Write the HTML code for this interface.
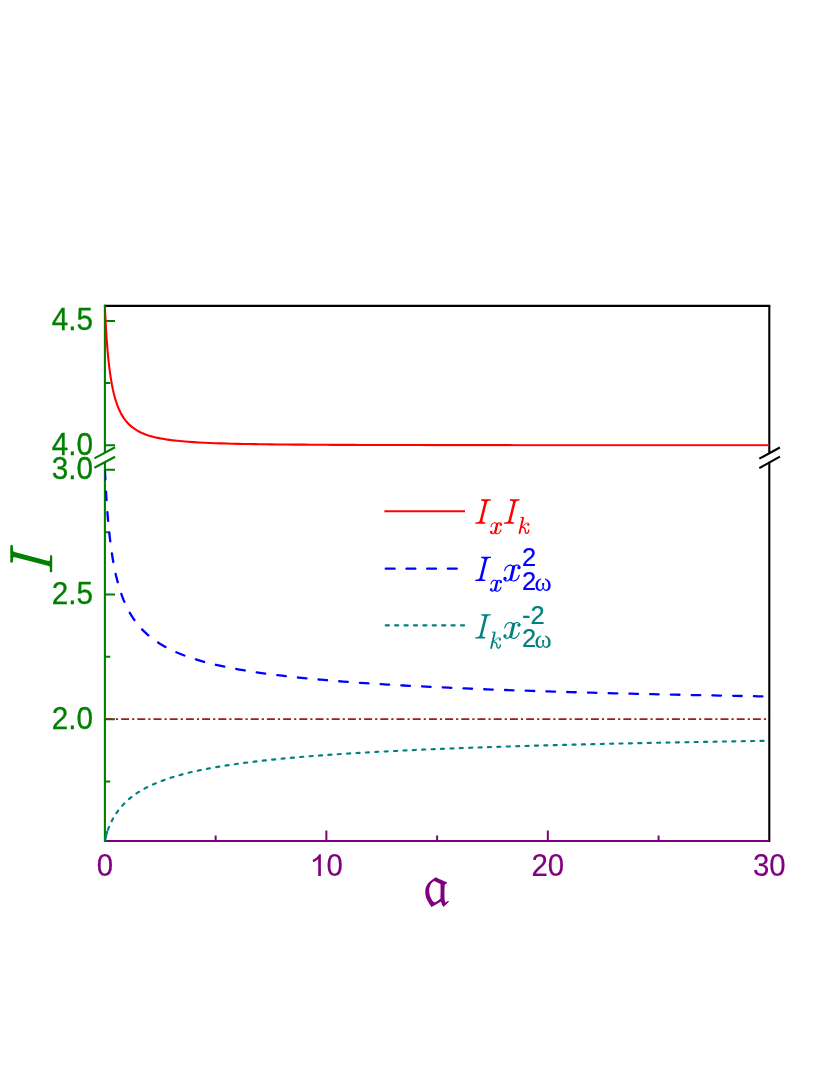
<!DOCTYPE html>
<html><head><meta charset="utf-8"><title>chart</title>
<style>
html,body{margin:0;padding:0;background:#fff;}
svg{display:block;will-change:transform;transform:translateZ(0);}
text{font-family:"Liberation Sans",sans-serif;}
.ser{font-family:"Liberation Serif",serif;}
</style></head><body>
<svg width="830" height="1075" viewBox="0 0 830 1075">
<rect width="830" height="1075" fill="#fff"/>
<defs><clipPath id="cb"><rect x="104.80" y="468.9" width="665.55" height="373.15"/></clipPath>
<clipPath id="ct"><rect x="104.80" y="304.85" width="665.55" height="141.55"/></clipPath></defs>

<path d="M103.90,305.9 H770.35" stroke="#000" stroke-width="2.1" fill="none"/>
<path d="M769.30,305.9 V452.7 M769.30,461.8 V842.05" stroke="#000" stroke-width="2.1" fill="none"/>
<path d="M759.3,458.7 L779.9,447.5 M759.3,468.1 L779.9,456.7" stroke="#000" stroke-width="2.1" fill="none"/>
<path d="M104.90,841.0 H769.30" stroke="#800080" stroke-width="2.1" fill="none"/>
<path d="M326.37,841.0 v-10.4 M547.83,841.0 v-10.4 M215.63,841.0 v-5.4 M437.10,841.0 v-5.4 M658.57,841.0 v-5.4" stroke="#800080" stroke-width="2" fill="none"/>
<path d="M104.90,304.84999999999997 V452.9 M104.90,462 V842.05" stroke="#008000" stroke-width="2.1" fill="none"/>
<path d="M94.4,458.4 L115.1,447.3 M94.4,467.8 L115.1,456.7" stroke="#008000" stroke-width="2.1" fill="none"/>
<path d="M104.90,320.95 h10.1 M104.90,445.30 h10.1 M104.90,469.83 h10.1 M104.90,594.48 h10.1 M104.90,719.13 h10.1 M104.90,383.12 h5.4 M104.90,532.15 h5.4 M104.90,656.80 h5.4 M104.90,781.46 h5.4" stroke="#008000" stroke-width="2" fill="none"/>
<path d="M104.90,719.1 H769.30" stroke="#952020" stroke-width="1.6" stroke-dasharray="8 3 2.2 3" fill="none"/>
<path clip-path="url(#ct)" d="M104.90,307.43 L104.93,308.06 L105.01,309.91 L105.15,312.88 L105.34,316.85 L105.59,321.65 L105.90,327.08 L106.26,332.96 L106.67,339.11 L107.14,345.39 L107.67,351.67 L108.25,357.83 L108.89,363.81 L109.58,369.55 L110.33,375.01 L111.13,380.16 L111.99,385.00 L112.90,389.52 L113.87,393.74 L114.89,397.65 L115.97,401.27 L117.11,404.62 L118.30,407.72 L119.54,410.57 L120.85,413.20 L122.20,415.62 L123.61,417.86 L125.08,419.91 L126.60,421.80 L128.18,423.54 L129.81,425.14 L131.50,426.62 L133.25,427.98 L135.05,429.23 L136.90,430.39 L138.81,431.45 L140.78,432.44 L142.80,433.34 L144.87,434.18 L147.01,434.95 L149.19,435.67 L154.73,437.18 L160.27,438.38 L165.80,439.34 L171.34,440.12 L176.88,440.76 L182.41,441.30 L187.95,441.75 L193.49,442.14 L199.02,442.46 L204.56,442.75 L210.10,442.99 L215.63,443.20 L221.17,443.39 L226.71,443.56 L232.24,443.70 L237.78,443.83 L243.32,443.95 L248.85,444.05 L254.39,444.14 L259.93,444.23 L265.46,444.30 L271.00,444.37 L276.54,444.43 L282.07,444.49 L287.61,444.54 L293.15,444.59 L298.68,444.63 L304.22,444.67 L309.76,444.71 L315.29,444.74 L320.83,444.77 L326.37,444.80 L331.90,444.83 L337.44,444.85 L342.98,444.87 L348.51,444.89 L354.05,444.91 L359.59,444.93 L365.12,444.95 L370.66,444.97 L376.20,444.98 L381.73,445.00 L387.27,445.01 L392.81,445.02 L398.34,445.03 L403.88,445.04 L409.42,445.06 L414.95,445.07 L420.49,445.07 L426.03,445.08 L431.56,445.09 L437.10,445.10 L442.64,445.11 L448.17,445.11 L453.71,445.12 L459.25,445.13 L464.78,445.13 L470.32,445.14 L475.86,445.14 L481.39,445.15 L486.93,445.15 L492.47,445.16 L498.00,445.16 L503.54,445.17 L509.08,445.17 L514.61,445.18 L520.15,445.18 L525.69,445.18 L531.22,445.19 L536.76,445.19 L542.30,445.19 L547.83,445.20 L553.37,445.20 L558.91,445.20 L564.44,445.21 L569.98,445.21 L575.52,445.21 L581.05,445.21 L586.59,445.22 L592.13,445.22 L597.66,445.22 L603.20,445.22 L608.74,445.22 L614.27,445.23 L619.81,445.23 L625.35,445.23 L630.88,445.23 L636.42,445.23 L641.96,445.23 L647.49,445.24 L653.03,445.24 L658.57,445.24 L664.10,445.24 L669.64,445.24 L675.18,445.24 L680.71,445.24 L686.25,445.24 L691.79,445.25 L697.32,445.25 L702.86,445.25 L708.40,445.25 L713.93,445.25 L719.47,445.25 L725.01,445.25 L730.54,445.25 L736.08,445.25 L741.62,445.26 L747.15,445.26 L752.69,445.26 L758.23,445.26 L763.76,445.26 L769.30,445.26" stroke="#ff0000" stroke-width="2.1" fill="none" stroke-linejoin="round"/>
<path clip-path="url(#cb)" d="M104.90,469.83 L104.93,470.45 L105.01,472.29 L105.15,475.26 L105.34,479.24 L105.59,484.09 L105.90,489.63 L106.26,495.70 L106.67,502.14 L107.14,508.81 L107.67,515.58 L108.25,522.35 L108.89,529.04 L109.58,535.59 L110.33,541.96 L111.13,548.11 L111.99,554.03 L112.90,559.70 L113.87,565.11 L114.89,570.28 L115.97,575.20 L117.11,579.88 L118.30,584.32 L119.54,588.55 L120.85,592.57 L122.20,596.38 L123.61,600.01 L125.08,603.46 L126.60,606.74 L128.18,609.86 L129.81,612.83 L131.50,615.66 L133.25,618.36 L135.05,620.93 L136.90,623.39 L138.81,625.73 L140.78,627.98 L142.80,630.12 L144.87,632.18 L147.01,634.14 L149.19,636.03 L154.73,640.29 L160.27,643.96 L165.80,647.16 L171.34,649.99 L176.88,652.50 L182.41,654.76 L187.95,656.80 L193.49,658.67 L199.02,660.37 L204.56,661.94 L210.10,663.38 L215.63,664.73 L221.17,665.98 L226.71,667.15 L232.24,668.24 L237.78,669.27 L243.32,670.24 L248.85,671.15 L254.39,672.02 L259.93,672.84 L265.46,673.61 L271.00,674.35 L276.54,675.06 L282.07,675.73 L287.61,676.38 L293.15,676.99 L298.68,677.58 L304.22,678.15 L309.76,678.69 L315.29,679.21 L320.83,679.71 L326.37,680.20 L331.90,680.66 L337.44,681.11 L342.98,681.55 L348.51,681.97 L354.05,682.37 L359.59,682.77 L365.12,683.15 L370.66,683.52 L376.20,683.87 L381.73,684.22 L387.27,684.56 L392.81,684.89 L398.34,685.20 L403.88,685.51 L409.42,685.82 L414.95,686.11 L420.49,686.40 L426.03,686.67 L431.56,686.95 L437.10,687.21 L442.64,687.47 L448.17,687.72 L453.71,687.97 L459.25,688.21 L464.78,688.44 L470.32,688.67 L475.86,688.90 L481.39,689.12 L486.93,689.33 L492.47,689.54 L498.00,689.75 L503.54,689.95 L509.08,690.15 L514.61,690.34 L520.15,690.53 L525.69,690.72 L531.22,690.90 L536.76,691.08 L542.30,691.26 L547.83,691.43 L553.37,691.60 L558.91,691.77 L564.44,691.93 L569.98,692.09 L575.52,692.25 L581.05,692.40 L586.59,692.55 L592.13,692.70 L597.66,692.85 L603.20,693.00 L608.74,693.14 L614.27,693.28 L619.81,693.42 L625.35,693.55 L630.88,693.69 L636.42,693.82 L641.96,693.95 L647.49,694.07 L653.03,694.20 L658.57,694.32 L664.10,694.45 L669.64,694.57 L675.18,694.68 L680.71,694.80 L686.25,694.92 L691.79,695.03 L697.32,695.14 L702.86,695.25 L708.40,695.36 L713.93,695.47 L719.47,695.57 L725.01,695.68 L730.54,695.78 L736.08,695.88 L741.62,695.98 L747.15,696.08 L752.69,696.18 L758.23,696.28 L763.76,696.37 L769.30,696.47" stroke="#0000ff" stroke-width="2.3" stroke-dasharray="8.6 12.15" stroke-dashoffset="-1" stroke-linecap="round" fill="none" stroke-linejoin="round"/>
<path clip-path="url(#cb)" d="M104.90,840.96 L104.93,840.80 L105.01,840.34 L105.15,839.61 L105.34,838.66 L105.59,837.53 L105.90,836.26 L106.26,834.90 L106.67,833.47 L107.14,831.97 L107.67,830.42 L108.25,828.83 L108.89,827.20 L109.58,825.54 L110.33,823.86 L111.13,822.16 L111.99,820.46 L112.90,818.75 L113.87,817.05 L114.89,815.37 L115.97,813.70 L117.11,812.05 L118.30,810.42 L119.54,808.81 L120.85,807.24 L122.20,805.69 L123.61,804.18 L125.08,802.69 L126.60,801.24 L128.18,799.81 L129.81,798.42 L131.50,797.07 L133.25,795.74 L135.05,794.44 L136.90,793.18 L138.81,791.95 L140.78,790.74 L142.80,789.57 L144.87,788.42 L147.01,787.31 L149.19,786.22 L154.73,783.69 L160.27,781.44 L165.80,779.41 L171.34,777.57 L176.88,775.90 L182.41,774.36 L187.95,772.95 L193.49,771.64 L199.02,770.42 L204.56,769.29 L210.10,768.23 L215.63,767.23 L221.17,766.30 L226.71,765.41 L232.24,764.58 L237.78,763.79 L243.32,763.04 L248.85,762.32 L254.39,761.65 L259.93,761.00 L265.46,760.38 L271.00,759.79 L276.54,759.22 L282.07,758.68 L287.61,758.16 L293.15,757.66 L298.68,757.17 L304.22,756.71 L309.76,756.26 L315.29,755.83 L320.83,755.41 L326.37,755.01 L331.90,754.62 L337.44,754.24 L342.98,753.88 L348.51,753.53 L354.05,753.18 L359.59,752.85 L365.12,752.53 L370.66,752.21 L376.20,751.91 L381.73,751.61 L387.27,751.32 L392.81,751.04 L398.34,750.77 L403.88,750.50 L409.42,750.24 L414.95,749.99 L420.49,749.74 L426.03,749.50 L431.56,749.26 L437.10,749.03 L442.64,748.81 L448.17,748.59 L453.71,748.37 L459.25,748.16 L464.78,747.96 L470.32,747.76 L475.86,747.56 L481.39,747.37 L486.93,747.18 L492.47,746.99 L498.00,746.81 L503.54,746.63 L509.08,746.46 L514.61,746.29 L520.15,746.12 L525.69,745.95 L531.22,745.79 L536.76,745.63 L542.30,745.48 L547.83,745.32 L553.37,745.17 L558.91,745.02 L564.44,744.88 L569.98,744.74 L575.52,744.59 L581.05,744.46 L586.59,744.32 L592.13,744.19 L597.66,744.05 L603.20,743.92 L608.74,743.80 L614.27,743.67 L619.81,743.55 L625.35,743.43 L630.88,743.31 L636.42,743.19 L641.96,743.07 L647.49,742.96 L653.03,742.84 L658.57,742.73 L664.10,742.62 L669.64,742.51 L675.18,742.41 L680.71,742.30 L686.25,742.20 L691.79,742.09 L697.32,741.99 L702.86,741.89 L708.40,741.79 L713.93,741.70 L719.47,741.60 L725.01,741.51 L730.54,741.41 L736.08,741.32 L741.62,741.23 L747.15,741.14 L752.69,741.05 L758.23,740.96 L763.76,740.87 L769.30,740.79" stroke="#008080" stroke-width="2.15" stroke-dasharray="3.1 6.3" stroke-dashoffset="-2.2" stroke-linecap="round" fill="none" stroke-linejoin="round"/>
<path clip-path="url(#cb)" d="M104.90,841.00 L104.90,840.96 L104.93,840.80 L105.01,840.34 L105.15,839.61 L105.34,838.66 L105.59,837.53 L105.90,836.26 L106.26,834.90 L106.67,833.47 L107.14,831.97 L106.26,831.50" stroke="#008080" stroke-width="2.15" fill="none" stroke-linejoin="round"/>
<text transform="translate(93.10,330.35) scale(1,1.075)" font-size="29.7" fill="#008000" stroke="#008000" stroke-width="0.3" text-anchor="end">4.5</text>
<text transform="translate(93.10,454.70) scale(1,1.075)" font-size="29.7" fill="#008000" stroke="#008000" stroke-width="0.3" text-anchor="end">4.0</text>
<text transform="translate(93.10,479.23) scale(1,1.075)" font-size="29.7" fill="#008000" stroke="#008000" stroke-width="0.3" text-anchor="end">3.0</text>
<text transform="translate(93.10,603.88) scale(1,1.075)" font-size="29.7" fill="#008000" stroke="#008000" stroke-width="0.3" text-anchor="end">2.5</text>
<text transform="translate(93.10,728.53) scale(1,1.075)" font-size="29.7" fill="#008000" stroke="#008000" stroke-width="0.3" text-anchor="end">2.0</text>
<text transform="translate(104.90,876.30) scale(1,1.085)" font-size="29.4" fill="#800080" stroke="#800080" stroke-width="0.2" text-anchor="middle">0</text>
<text transform="translate(547.83,876.30) scale(1,1.085)" font-size="29.4" fill="#800080" stroke="#800080" stroke-width="0.2" text-anchor="middle">20</text>
<text transform="translate(769.30,876.30) scale(1,1.085)" font-size="29.4" fill="#800080" stroke="#800080" stroke-width="0.2" text-anchor="middle">30</text>
<path transform="translate(309.62,876.0) scale(0.01475,-0.01475)" d="M763,0 H583 V1147 Q518,1085 412.5,1023 Q307,961 223,930 V1104 Q374,1175 487,1276 Q600,1377 647,1472 H763 Z" fill="#800080"/>
<text transform="translate(334.72,876.30) scale(1,1.085)" font-size="29.4" fill="#800080" stroke="#800080" stroke-width="0.2" text-anchor="middle">0</text>
<path d="M10.30,545.95 L10.83,545.02 L11.63,544.83 L12.49,545.16 L12.95,546.28 L12.95,549.93 L13.28,551.25 L14.61,552.12 L47.41,560.86 L49.27,561.06 L49.93,560.20 L50.06,556.22 L50.46,555.23 L51.19,554.96 L51.92,555.36 L52.25,556.42 L52.18,571.13 L51.79,572.13 L50.99,572.46 L50.20,572.06 L49.80,571.13 L49.80,567.49 L49.27,566.36 L47.74,565.70 L14.94,557.22 L13.48,557.35 L13.02,558.21 L12.95,561.53 L12.55,562.52 L11.63,562.85 L10.70,562.52 L10.30,561.53Z" fill="#008000"/>
<path d="M435.81,877.27 L438.55,878.66 L441.08,879.80 L444.88,881.49 L446.48,881.95 L446.99,882.37 L446.57,883.47 L445.39,884.23 L444.67,884.99 L444.50,888.87 L444.42,893.08 L444.50,898.14 L444.80,900.68 L445.30,902.45 L446.57,901.86 L447.83,901.10 L449.01,901.01 L448.34,902.15 L446.14,904.47 L443.40,906.92 L442.35,905.31 L441.51,903.21 L441.00,901.60 L436.87,904.05 L433.92,905.65 L431.39,906.92 L429.91,904.68 L428.43,902.36 L427.17,900.04 L426.33,898.14 L425.57,895.61 L425.27,893.08 L425.27,890.55 L425.61,888.45 L426.11,886.76 L426.96,885.07 L427.80,883.81 L429.07,882.33 L430.54,881.07 L433.49,878.75Z M434.13,880.94 L436.87,882.33 L440.45,884.02 L440.58,888.87 L440.54,893.08 L440.37,898.65 L437.71,900.68 L434.76,902.45 L433.49,901.86 L432.23,900.46 L430.75,897.72 L429.91,895.61 L429.36,893.08 L429.11,890.55 L429.36,888.02 L430.04,885.92 L431.05,883.81 L432.57,881.95Z" fill="#800080" fill-rule="evenodd"/>
<path d="M384.4,511.3 H465" stroke="#ff0000" stroke-width="2.1" fill="none"/>
<path d="M385.7,568.7 H460" stroke="#0000ff" stroke-width="2.2" stroke-dasharray="9 11.7" stroke-linecap="round" fill="none"/>
<path d="M385.7,625.35 H465" stroke="#008080" stroke-width="2.2" stroke-dasharray="3.2 6.2" stroke-linecap="round" fill="none"/>
<path d="M481.18,499.36 L490.97,499.36 L490.97,500.51 L488.89,500.71 L487.57,501.28 L486.84,502.71 L482.41,520.44 L482.33,521.41 L483.03,522.06 L485.30,522.41 L485.38,523.64 L475.28,523.64 L475.28,522.41 L477.47,522.18 L478.94,521.64 L479.79,520.44 L484.22,502.71 L484.30,501.63 L483.49,501.01 L481.18,500.67Z" fill="#ff0000"/>
<path d="M497.19,523.92 L495.18,532.57" stroke="#ff0000" stroke-width="2.3" stroke-linecap="round" fill="none"/>
<path d="M490.97,526.51 C491.09,526.19 491.34,525.13 491.72,524.57 C492.10,524.01 492.69,523.45 493.24,523.16 C493.78,522.87 494.46,522.78 494.96,522.84 C495.47,522.89 495.94,523.18 496.26,523.49 C496.59,523.79 496.80,524.48 496.91,524.68 M495.33,531.05 C495.19,531.29 494.83,532.09 494.47,532.50 C494.10,532.92 493.58,533.35 493.13,533.54 C492.67,533.73 492.14,533.78 491.72,533.65 C491.31,533.51 490.82,532.87 490.64,532.72 M497.13,524.78 C497.25,524.58 497.55,523.88 497.88,523.55 C498.22,523.23 498.71,522.94 499.14,522.84 C499.56,522.74 500.04,522.74 500.43,522.95 C500.83,523.15 501.33,523.88 501.51,524.07 M495.07,532.24 C495.19,532.42 495.40,533.07 495.76,533.32 C496.12,533.57 496.70,533.79 497.23,533.76 C497.77,533.72 498.46,533.47 498.96,533.11 C499.47,532.75 499.92,532.13 500.26,531.59 C500.60,531.05 500.89,530.15 501.02,529.86" stroke="#ff0000" stroke-width="1.05" stroke-linecap="round" fill="none"/>
<circle cx="491.18" cy="532.03" r="1.3" fill="#ff0000"/>
<circle cx="500.80" cy="524.57" r="1.3" fill="#ff0000"/>
<path d="M509.88,499.36 L519.67,499.36 L519.67,500.51 L517.59,500.71 L516.27,501.28 L515.54,502.71 L511.11,520.44 L511.03,521.41 L511.73,522.06 L514.00,522.41 L514.08,523.64 L503.98,523.64 L503.98,522.41 L506.17,522.18 L507.64,521.64 L508.49,520.44 L512.92,502.71 L513.00,501.63 L512.19,501.01 L509.88,500.67Z" fill="#ff0000"/>
<path d="M523.07,517.86 L519.58,533.16" stroke="#ff0000" stroke-width="1.9" stroke-linecap="round" fill="none"/>
<path d="M520.66,517.37 L523.31,517.37 M522.23,526.53 C522.47,526.33 523.17,525.77 523.67,525.33 C524.18,524.88 524.68,524.26 525.24,523.88 C525.80,523.50 526.51,523.14 527.05,523.04 C527.59,522.94 528.25,523.24 528.49,523.28" stroke="#ff0000" stroke-width="0.9" stroke-linecap="round" fill="none"/>
<path d="M522.23,527.13 C522.55,527.25 523.67,527.47 524.16,527.86 C524.64,528.24 524.94,528.84 525.12,529.42 C525.30,530.00 525.10,530.75 525.24,531.35 C525.38,531.95 525.64,532.72 525.96,533.04 C526.29,533.35 526.77,533.41 527.17,533.23 C527.57,533.05 528.10,532.47 528.37,531.95 C528.64,531.44 528.71,530.45 528.78,530.14" stroke="#ff0000" stroke-width="1.35" stroke-linecap="round" fill="none"/>
<circle cx="528.37" cy="524.72" r="1.15" fill="#ff0000"/>
<path d="M481.18,556.76 L490.97,556.76 L490.97,557.91 L488.89,558.11 L487.57,558.68 L486.84,560.11 L482.41,577.84 L482.33,578.81 L483.03,579.46 L485.30,579.81 L485.38,581.04 L475.28,581.04 L475.28,579.81 L477.47,579.58 L478.94,579.04 L479.79,577.84 L484.22,560.11 L484.30,559.03 L483.49,558.41 L481.18,558.07Z" fill="#0000ff"/>
<path d="M497.19,581.32 L495.18,589.97" stroke="#0000ff" stroke-width="2.3" stroke-linecap="round" fill="none"/>
<path d="M490.97,583.91 C491.09,583.59 491.34,582.53 491.72,581.97 C492.10,581.41 492.69,580.85 493.24,580.56 C493.78,580.27 494.46,580.18 494.96,580.24 C495.47,580.29 495.94,580.58 496.26,580.89 C496.59,581.19 496.80,581.88 496.91,582.08 M495.33,588.45 C495.19,588.69 494.83,589.49 494.47,589.90 C494.10,590.32 493.58,590.75 493.13,590.94 C492.67,591.13 492.14,591.18 491.72,591.05 C491.31,590.91 490.82,590.27 490.64,590.12 M497.13,582.18 C497.25,581.98 497.55,581.28 497.88,580.95 C498.22,580.63 498.71,580.34 499.14,580.24 C499.56,580.14 500.04,580.14 500.43,580.35 C500.83,580.55 501.33,581.28 501.51,581.47 M495.07,589.64 C495.19,589.82 495.40,590.47 495.76,590.72 C496.12,590.97 496.70,591.19 497.23,591.16 C497.77,591.12 498.46,590.87 498.96,590.51 C499.47,590.15 499.92,589.53 500.26,588.99 C500.60,588.45 500.89,587.55 501.02,587.26" stroke="#0000ff" stroke-width="1.05" stroke-linecap="round" fill="none"/>
<circle cx="491.18" cy="589.43" r="1.3" fill="#0000ff"/>
<circle cx="500.80" cy="581.97" r="1.3" fill="#0000ff"/>
<path d="M513.72,566.74 L510.81,579.27" stroke="#0000ff" stroke-width="2.9" stroke-linecap="round" fill="none"/>
<path d="M504.70,570.49 C504.88,570.03 505.25,568.48 505.80,567.68 C506.34,566.87 507.21,566.06 507.99,565.64 C508.77,565.22 509.76,565.09 510.49,565.17 C511.23,565.25 511.90,565.67 512.37,566.11 C512.84,566.55 513.16,567.54 513.31,567.83 M511.03,577.07 C510.82,577.42 510.31,578.57 509.77,579.17 C509.24,579.77 508.50,580.40 507.83,580.68 C507.17,580.95 506.40,581.03 505.80,580.83 C505.20,580.63 504.49,579.71 504.23,579.49 M513.63,567.99 C513.81,567.69 514.24,566.67 514.72,566.20 C515.21,565.73 515.93,565.32 516.54,565.17 C517.16,565.02 517.85,565.03 518.42,565.33 C519.00,565.62 519.73,566.68 519.99,566.95 M510.65,578.80 C510.82,579.06 511.13,580.00 511.65,580.36 C512.18,580.73 513.01,581.04 513.78,580.99 C514.56,580.94 515.56,580.57 516.29,580.05 C517.02,579.53 517.67,578.64 518.17,577.86 C518.67,577.07 519.08,575.77 519.27,575.35" stroke="#0000ff" stroke-width="1.15" stroke-linecap="round" fill="none"/>
<circle cx="505.01" cy="578.48" r="1.65" fill="#0000ff"/>
<circle cx="518.95" cy="567.68" r="1.65" fill="#0000ff"/>
<text transform="translate(521.95,566.20) scale(1,0.98)" font-size="25.4" fill="#0000ff" stroke="#0000ff" stroke-width="0.25" text-anchor="start">2</text>
<text transform="translate(521.95,590.00) scale(1,0.98)" font-size="25.4" fill="#0000ff" stroke="#0000ff" stroke-width="0.25" text-anchor="start">2</text>
<text class="ser" x="534.60" y="590.70" font-size="26" fill="#0000ff" stroke="#0000ff" stroke-width="0.05">ω</text>
<path d="M481.18,614.16 L490.97,614.16 L490.97,615.31 L488.89,615.51 L487.57,616.08 L486.84,617.51 L482.41,635.24 L482.33,636.21 L483.03,636.86 L485.30,637.21 L485.38,638.44 L475.28,638.44 L475.28,637.21 L477.47,636.98 L478.94,636.44 L479.79,635.24 L484.22,617.51 L484.30,616.43 L483.49,615.81 L481.18,615.47Z" fill="#008080"/>
<path d="M494.67,632.66 L491.18,647.96" stroke="#008080" stroke-width="1.9" stroke-linecap="round" fill="none"/>
<path d="M492.26,632.17 L494.91,632.17 M493.83,641.33 C494.07,641.13 494.77,640.57 495.27,640.13 C495.78,639.68 496.28,639.06 496.84,638.68 C497.40,638.30 498.11,637.94 498.65,637.84 C499.19,637.74 499.85,638.04 500.09,638.08" stroke="#008080" stroke-width="0.9" stroke-linecap="round" fill="none"/>
<path d="M493.83,641.93 C494.15,642.05 495.27,642.27 495.76,642.66 C496.24,643.04 496.54,643.64 496.72,644.22 C496.90,644.80 496.70,645.55 496.84,646.15 C496.98,646.75 497.24,647.52 497.56,647.84 C497.89,648.15 498.37,648.21 498.77,648.03 C499.17,647.85 499.70,647.27 499.97,646.75 C500.24,646.24 500.31,645.25 500.38,644.94" stroke="#008080" stroke-width="1.35" stroke-linecap="round" fill="none"/>
<circle cx="499.97" cy="639.52" r="1.15" fill="#008080"/>
<path d="M513.72,624.14 L510.81,636.67" stroke="#008080" stroke-width="2.9" stroke-linecap="round" fill="none"/>
<path d="M504.70,627.89 C504.88,627.43 505.25,625.88 505.80,625.08 C506.34,624.27 507.21,623.46 507.99,623.04 C508.77,622.62 509.76,622.49 510.49,622.57 C511.23,622.65 511.90,623.07 512.37,623.51 C512.84,623.95 513.16,624.94 513.31,625.23 M511.03,634.47 C510.82,634.82 510.31,635.97 509.77,636.57 C509.24,637.17 508.50,637.80 507.83,638.08 C507.17,638.35 506.40,638.43 505.80,638.23 C505.20,638.03 504.49,637.11 504.23,636.89 M513.63,625.39 C513.81,625.09 514.24,624.07 514.72,623.60 C515.21,623.13 515.93,622.72 516.54,622.57 C517.16,622.42 517.85,622.43 518.42,622.73 C519.00,623.02 519.73,624.08 519.99,624.35 M510.65,636.20 C510.82,636.46 511.13,637.40 511.65,637.76 C512.18,638.13 513.01,638.44 513.78,638.39 C514.56,638.34 515.56,637.97 516.29,637.45 C517.02,636.93 517.67,636.04 518.17,635.26 C518.67,634.47 519.08,633.17 519.27,632.75" stroke="#008080" stroke-width="1.15" stroke-linecap="round" fill="none"/>
<circle cx="505.01" cy="635.88" r="1.65" fill="#008080"/>
<circle cx="518.95" cy="625.08" r="1.65" fill="#008080"/>
<text transform="translate(521.95,623.60) scale(1,0.98)" font-size="25.4" fill="#008080" stroke="#008080" stroke-width="0.25" text-anchor="start">-2</text>
<text transform="translate(521.95,647.40) scale(1,0.98)" font-size="25.4" fill="#008080" stroke="#008080" stroke-width="0.25" text-anchor="start">2</text>
<text class="ser" x="534.60" y="648.10" font-size="26" fill="#008080" stroke="#008080" stroke-width="0.05">ω</text>
</svg></body></html>
